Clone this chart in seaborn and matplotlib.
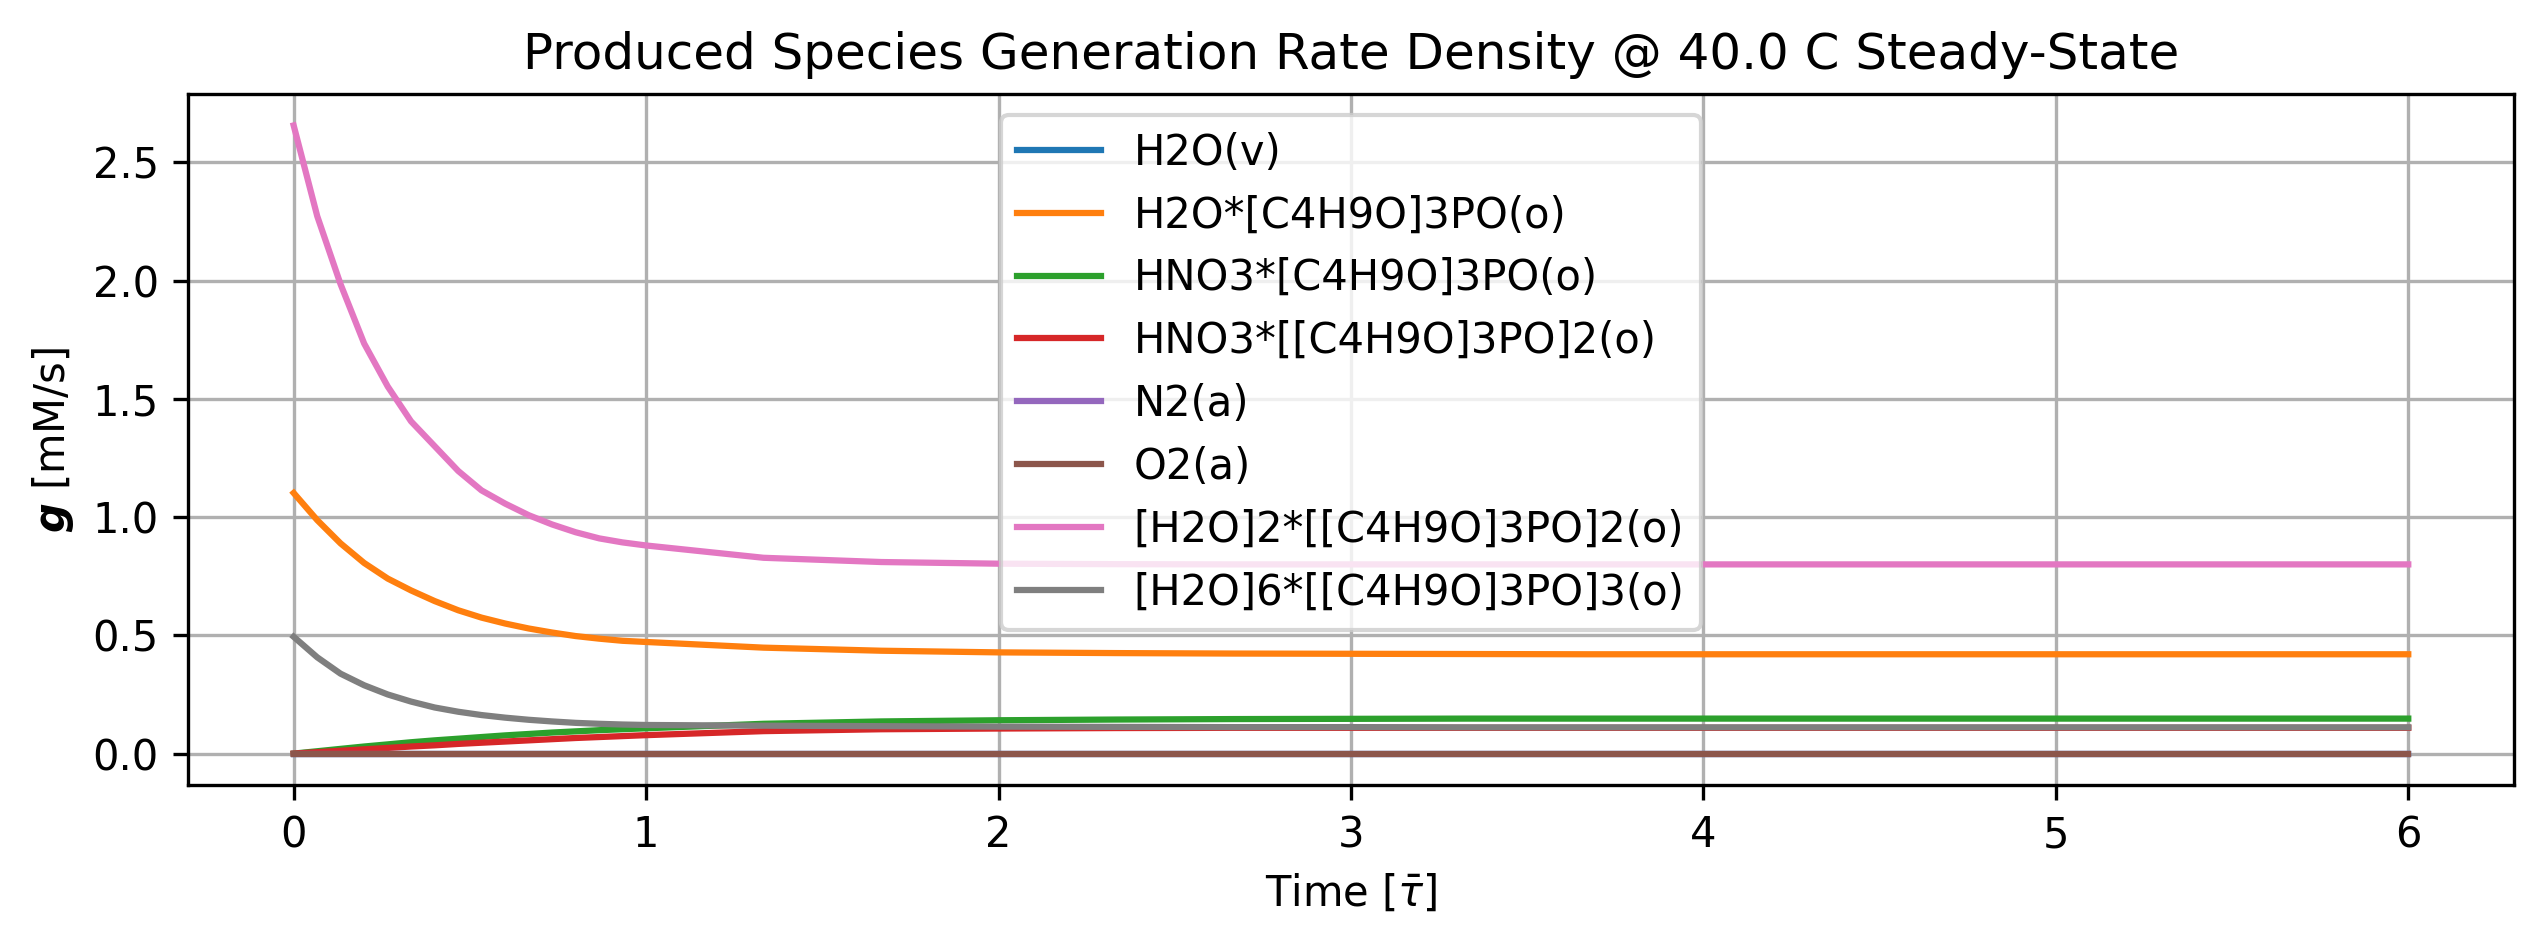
import matplotlib
matplotlib.use('Agg')
import matplotlib.pyplot as plt
import seaborn as sns
import pandas as pd

# sample times (dimensionless residence time)
time = [0.000, 0.067, 0.133, 0.200, 0.267, 0.333, 0.400, 0.467, 0.533, 0.600,
        0.667, 0.733, 0.800, 0.867, 0.933, 1.000, 1.333, 1.667, 2.000, 2.333,
        2.667, 3.000, 3.333, 3.667, 4.000, 4.333, 4.667, 5.000, 5.333, 5.667, 6.000]

species = ['H2O(v)', 'H2O*[C4H9O]3PO(o)', 'HNO3*[C4H9O]3PO(o)',
           'HNO3*[[C4H9O]3PO]2(o)', 'N2(a)', 'O2(a)',
           '[H2O]2*[[C4H9O]3PO]2(o)', '[H2O]6*[[C4H9O]3PO]3(o)']

h2o_v = [0.0] * 31
h2o_tbp = [1.102, 0.987, 0.889, 0.806, 0.740, 0.690, 0.645, 0.606, 0.575, 0.550,
           0.529, 0.512, 0.497, 0.486, 0.477, 0.472, 0.448, 0.435, 0.428, 0.425,
           0.423, 0.422, 0.421, 0.420, 0.420, 0.420, 0.420, 0.420, 0.420, 0.420, 0.420]
hno3_tbp = [0.000, 0.010, 0.020, 0.030, 0.039, 0.048, 0.056, 0.063, 0.070, 0.077,
            0.083, 0.089, 0.094, 0.099, 0.103, 0.107, 0.126, 0.136, 0.141, 0.144,
            0.146, 0.147, 0.148, 0.148, 0.148, 0.148, 0.148, 0.148, 0.148, 0.148, 0.148]
hno3_tbp2 = [0.000, 0.006, 0.012, 0.018, 0.024, 0.030, 0.035, 0.041, 0.046, 0.051,
             0.056, 0.061, 0.066, 0.070, 0.074, 0.078, 0.095, 0.103, 0.106, 0.108,
             0.109, 0.109, 0.109, 0.109, 0.109, 0.109, 0.109, 0.109, 0.109, 0.109, 0.109]
n2_a = [0.0] * 31
o2_a = [0.0] * 31
h2o2_tbp2 = [2.656, 2.272, 1.985, 1.734, 1.552, 1.405, 1.300, 1.195, 1.113, 1.057,
             1.008, 0.969, 0.936, 0.910, 0.893, 0.880, 0.828, 0.810, 0.803, 0.801,
             0.800, 0.800, 0.800, 0.800, 0.800, 0.800, 0.800, 0.800, 0.800, 0.800, 0.800]
h2o6_tbp3 = [0.494, 0.407, 0.338, 0.289, 0.250, 0.220, 0.195, 0.177, 0.163, 0.152,
             0.143, 0.136, 0.130, 0.126, 0.123, 0.121, 0.118, 0.116, 0.114, 0.113,
             0.112, 0.112, 0.111, 0.111, 0.111, 0.111, 0.111, 0.111, 0.111, 0.111, 0.111]

series = [h2o_v, h2o_tbp, hno3_tbp, hno3_tbp2, n2_a, o2_a, h2o2_tbp2, h2o6_tbp3]
colors = sns.color_palette('tab10', 8)

fig, ax = plt.subplots(figsize=(2543 / 300, 945 / 300), dpi=300)
fig.subplots_adjust(left=0.0739, right=0.9886, top=0.9005, bottom=0.1693)

for name, vals, col in zip(species, series, colors):
    df = pd.DataFrame({'t': time, 'g': vals})
    sns.lineplot(data=df, x='t', y='g', label=name, color=col, ax=ax)

ax.set_title('Produced Species Generation Rate Density @ 40.0 C Steady-State')
ax.set_xlabel(r'Time [$\bar{\tau}$]')
ax.set_ylabel(r'$\boldsymbol{g}$ [mM/s]')
ax.grid(True)
ax.legend(loc='upper center')

plt.savefig('out.png', dpi=300)
